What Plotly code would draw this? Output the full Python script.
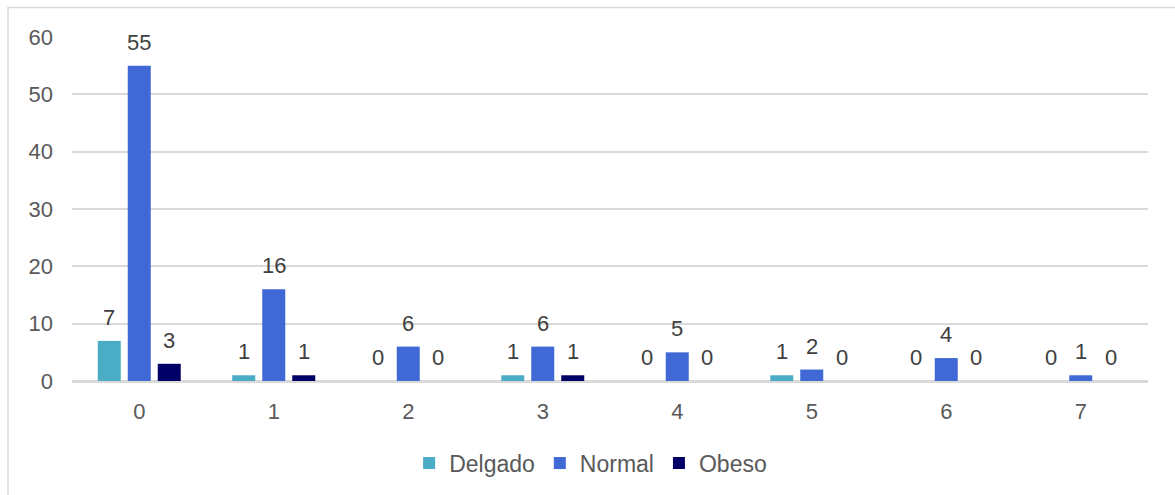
import plotly.graph_objects as go

categories = ["0", "1", "2", "3", "4", "5", "6", "7"]
delgado = [7, 1, 0, 1, 0, 1, 0, 0]
normal = [55, 16, 6, 6, 5, 2, 4, 1]
obeso = [3, 1, 0, 1, 0, 0, 0, 0]
y_ticks = [0, 10, 20, 30, 40, 50, 60]

FONT = "Liberation Sans, Arial"

series = [
    ("Delgado", delgado, "#4BACC6", -30),
    ("Normal", normal, "#4169D6", 0),
    ("Obeso", obeso, "#000066", 30),
]

fig = go.Figure()
annotations = []
for name, vals, color, shift in series:
    fig.add_trace(go.Bar(
        x=categories, y=vals, name=name,
        marker=dict(color=color, line=dict(width=0)),
    ))
    for cat, v in zip(categories, vals):
        annotations.append(dict(
            x=cat, y=v, xref="x", yref="y", text=str(v), showarrow=False,
            xshift=shift, yanchor="bottom", yshift=9,
            font=dict(family=FONT, size=22, color="#404040"),
        ))

fig.update_layout(
    width=1175, height=495,
    margin=dict(l=72, r=27, t=37, b=113),
    paper_bgcolor="white", plot_bgcolor="white",
    barmode="group", bargap=0.331, bargroupgap=0.233,
    font=dict(family=FONT, size=22, color="#595959"),
    showlegend=True,
    legend=dict(
        orientation="h", x=0.482, xanchor="center", y=-0.235, yanchor="middle",
        font=dict(size=23, color="#595959"), itemclick=False,
    ),
    annotations=annotations,
    shapes=[dict(
        type="rect", xref="paper", yref="paper",
        x0=-0.0595, x1=1.2, y0=-0.6, y1=1.0855,
        line=dict(color="#D9D9D9", width=1.5), fillcolor="rgba(0,0,0,0)",
        layer="below",
    )],
)
fig.update_xaxes(
    type="category", showgrid=False, showline=True, linecolor="#D9D9D9",
    linewidth=1.5, ticks="", ticklabelstandoff=10,
    tickfont=dict(size=22, color="#595959"),
)
fig.update_yaxes(
    range=[0, 60], tickvals=y_ticks, showgrid=True, gridcolor="#D9D9D9",
    gridwidth=1.5, zeroline=True, zerolinecolor="#D9D9D9", zerolinewidth=1.5,
    showline=False, ticks="", ticklabelstandoff=18,
    tickfont=dict(size=22, color="#595959"),
)

fig.write_html("out.html")
